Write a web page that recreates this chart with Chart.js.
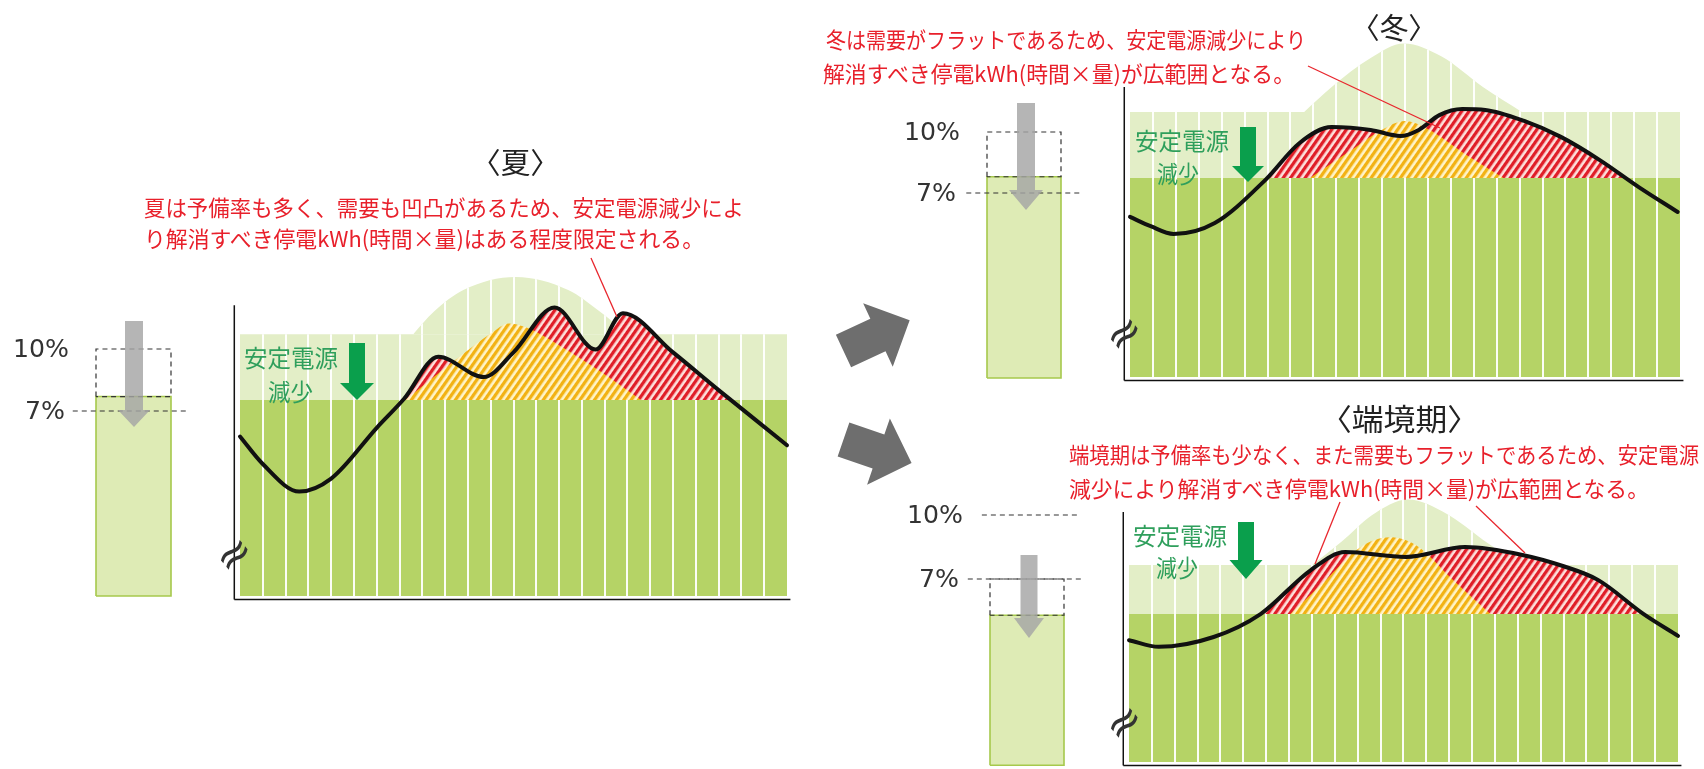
<!DOCTYPE html>
<html lang="ja">
<head>
<meta charset="utf-8">
<title>安定電源減少による停電kWhのイメージ</title>
<script src="https://cdn.jsdelivr.net/npm/chart.js@4.4.1/dist/chart.umd.min.js"></script>
<style>
  html, body { margin: 0; padding: 0; background: #fff; }
  #page { position: relative; width: 1704px; height: 769px; overflow: hidden; background: #fff;
          font-family: "Noto Sans CJK JP", "Noto Sans", sans-serif; }
  #page canvas { position: absolute; display: block; z-index: 1; }
  #deco { position: absolute; left: 0; top: 0; z-index: 2; }
  .t { position: absolute; white-space: nowrap; line-height: 1; transform-origin: 0 50%; z-index: 3; }
</style>
</head>
<body>
<div id="page">
  <svg id="deco" width="1704" height="769" xmlns="http://www.w3.org/2000/svg"></svg>
</div>
<script>
// ---------------------------------------------------------------
// Data: hours of the day (0-24) against load in relative units
// (0 = bottom of the stable-supply block).
// ---------------------------------------------------------------
const seasonTitles = ['〈夏〉', '〈冬〉', '〈端境期〉'];
const seasonNotes = [
  ['夏は予備率も多く、需要も凹凸があるため、安定電源減少によ', 'り解消すべき停電kWh(時間×量)はある程度限定される。'],
  ['冬は需要がフラットであるため、安定電源減少により', '解消すべき停電kWh(時間×量)が広範囲となる。'],
  ['端境期は予備率も少なく、また需要もフラットであるため、安定電源', '減少により解消すべき停電kWh(時間×量)が広範囲となる。']
];
const supplyLabel = ['安定電源', '減少'];

const stableTop  = [67.6, 68.6, 51.0];   // stable supply after the reduction
const reserveTop = [90.3, 91.4, 67.9];   // reserve band that was lost
const axisTop    = [100.3, 100.0, 86.2];

const summerHours  = [0, 1, 2.6, 4, 6, 7.2, 8.7, 10.7, 12, 13.8, 15.6, 16.8, 19, 21, 24];
const summerDemand = [55, 45.5, 36, 40.5, 58, 68, 82.5, 75.5, 84, 99.5, 85, 97.5, 84, 71, 52];
const summerPvHours = [7.6, 8.5, 9.8, 12.1, 14.4, 15.8, 17.0];
const summerPv      = [90.3, 98, 105.5, 110, 105.5, 98, 90.3];
const summerCoverHours = [7.25, 8.5, 9.8, 11, 11.8, 12.6, 14, 15.8, 17.6];
const summerCover      = [67.6, 75.5, 83.5, 90.5, 94, 92.5, 86.5, 77.5, 67.6];

const winterHours  = [0, 0.9, 1.9, 3.7, 5.9, 7.4, 8.8, 10.5, 11.8, 12.6, 13.5, 14.5, 15.5, 17.2, 18.8, 20.5, 22.2, 23.9];
const winterDemand = [55.2, 52, 49.3, 53.1, 67.9, 80.7, 86.2, 85.2, 83.1, 85.2, 90.3, 92.4, 92.1, 88.3, 82.8, 74.8, 65.5, 56.9];
const winterPvHours = [7.6, 8.8, 10.5, 11.95, 13.6, 15.4, 17.1];
const winterPv      = [91.4, 100, 110, 115, 110.5, 100, 91.4];
const winterCoverHours = [7.85, 9.5, 11, 12, 13, 14.6, 16.3];
const winterCover      = [68.6, 77.4, 85.3, 88.3, 85.5, 77, 68.6];

const shoulderHours  = [0, 1.3, 3.7, 5.75, 7.95, 9.45, 12.1, 14.7, 17.2, 19, 20.5, 22.5, 24];
const shoulderDemand = [42, 39.7, 43.1, 51, 66.2, 72.4, 70.7, 74.1, 71.4, 67.5, 62.8, 51, 43.5];
const shoulderPvHours = [8.0, 9.3, 10.6, 12.2, 13.9, 15.5, 17.1];
const shoulderPv      = [67.9, 76, 85, 90.5, 85.5, 76.5, 67.9];
const shoulderCoverHours = [7.05, 8.5, 10.1, 11.4, 12.5, 14.2, 15.8];
const shoulderCover      = [51, 62, 74, 77.5, 75, 62.5, 51];

// Reserve-margin gauges (percent)
const gaugeTicks      = [10, 7];
const gaugeTickLabels = ['10%', '7%'];
const reserveBefore   = [10, 10, 7];
const reserveAfter    = [7.7, 7.8, 5.3];
const gaugeFloor      = [-1.95, -2.1, -1.73];
const gaugeRefLines   = [[7], [7], [10, 7]];

// ---------------------------------------------------------------
// Layout (pixels)
// ---------------------------------------------------------------
const mainBoxes = [
  { left: 225,  top: 245, width: 580, height: 360, x0: 240,  x24: 787,  y0: 596, unit: 2.9 },
  { left: 1110, top: 25,  width: 594, height: 363, x0: 1130, x24: 1680, y0: 377, unit: 2.9 },
  { left: 1110, top: 470, width: 594, height: 299, x0: 1129, x24: 1678, y0: 762, unit: 2.9 }
];
const gaugeBoxes = [
  { left: 60,  top: 330, width: 140, height: 275, xa: 96,  xb: 171,  yHi: 349, yLo: 411 },
  { left: 955, top: 110, width: 140, height: 275, xa: 987, xb: 1061, yHi: 132, yLo: 193 },
  { left: 955, top: 495, width: 140, height: 274, xa: 990, xb: 1064, yHi: 515, yLo: 579 }
];
const gaugeRefSpan = [[[-0.31, 1.25]], [[-0.28, 1.28]], [[-0.11, 1.22], [-0.3, 1.28]]];

const DARK = '#b5d366';
const LIGHT = '#e3eec7';
const RED = '#e8202b';
const GREEN_TEXT = '#2f9f5c';
const GREEN_ARROW = '#0a9f4c';

const page = document.getElementById('page');
const deco = document.getElementById('deco');

const panelSeries = [
  { hours: summerHours, demand: summerDemand, pvHours: summerPvHours, pv: summerPv, coverHours: summerCoverHours, cover: summerCover },
  { hours: winterHours, demand: winterDemand, pvHours: winterPvHours, pv: winterPv, coverHours: winterCoverHours, cover: winterCover },
  { hours: shoulderHours, demand: shoulderDemand, pvHours: shoulderPvHours, pv: shoulderPv, coverHours: shoulderCoverHours, cover: shoulderCover }
];

function pts(xs, ys) { return xs.map((x, k) => ({ x, y: ys[k] })); }
function lerpValue(vA, pA, vB, pB, p) { return vA + (p - pA) * (vB - vA) / (pB - pA); }

function makeCanvas(b) {
  const c = document.createElement('canvas');
  c.width = b.width; c.height = b.height;
  c.style.left = b.left + 'px'; c.style.top = b.top + 'px';
  c.style.width = b.width + 'px'; c.style.height = b.height + 'px';
  page.appendChild(c);
  return c;
}

// diagonal stripe fill for the hatched areas
function hatch(ctx, stripe, gap) {
  const p = 6;
  const tile = document.createElement('canvas');
  tile.width = p; tile.height = p;
  const g = tile.getContext('2d');
  g.fillStyle = gap; g.fillRect(0, 0, p, p);
  g.fillStyle = stripe; g.fillRect(0, 0, 3.3, p);
  const pat = ctx.createPattern(tile, 'repeat');
  pat.setTransform(new DOMMatrix().rotateSelf(35));
  return pat;
}

// white hourly separators over the supply blocks (drawn under the hatching)
const columnLines = {
  id: 'columnLines',
  afterDatasetDraw(chart, args) {
    const ds = chart.data.datasets[args.index];
    if (!ds.columnLines) return;
    const { ctx, chartArea } = chart;
    const xs = chart.scales.x, ys = chart.scales.y;
    const bottom = ys.getPixelForValue(0);
    const band = ys.getPixelForValue(ds.bandLevel);
    const bump = args.meta.dataset;
    const p = bump.points;
    ctx.save();
    ctx.strokeStyle = 'rgba(255,255,255,0.95)';
    ctx.lineWidth = 2;
    ctx.beginPath();
    for (let h = 1; h < 24; h++) {
      const x = Math.round(xs.getPixelForValue(h));
      ctx.moveTo(x, bottom); ctx.lineTo(x, band);
    }
    ctx.stroke();
    bump.updateControlPoints(chartArea, 'x');
    ctx.beginPath();
    bump.path(ctx);
    ctx.lineTo(p[p.length - 1].x, band);
    ctx.lineTo(p[0].x, band);
    ctx.closePath();
    ctx.clip();
    ctx.beginPath();
    for (let h = 1; h < 24; h++) {
      const x = Math.round(xs.getPixelForValue(h));
      ctx.moveTo(x, band + 0.5); ctx.lineTo(x, chartArea.top);
    }
    ctx.stroke();
    ctx.restore();
  }
};

function baseOptions(xMin, xMax, yMin, yMax) {
  return {
    responsive: false, animation: false, events: [],
    layout: { padding: 0 },
    plugins: { legend: { display: false }, tooltip: { enabled: false }, title: { display: false } },
    scales: {
      x: { type: 'linear', min: xMin, max: xMax, display: false },
      y: { type: 'linear', min: yMin, max: yMax, display: false }
    }
  };
}

function drawMain(i) {
  const b = mainBoxes[i], s = panelSeries[i];
  const cv = makeCanvas(b);
  const ctx = cv.getContext('2d');
  const xMin = lerpValue(0, b.x0, 24, b.x24, b.left);
  const xMax = lerpValue(0, b.x0, 24, b.x24, b.left + b.width);
  const yMax = (b.y0 - b.top) / b.unit;
  const yMin = (b.y0 - b.top - b.height) / b.unit;
  const flat = v => [{ x: 0, y: v }, { x: 24, y: v }];
  const smooth = { pointRadius: 0, borderWidth: 0, cubicInterpolationMode: 'monotone' };
  new Chart(ctx, {
    type: 'line',
    data: {
      datasets: [
        { ...smooth, label: '需要', data: pts(s.hours, s.demand), borderColor: '#111', borderWidth: 4,
          borderCapStyle: 'round', borderJoinStyle: 'round', fill: false, order: 1 },
        { ...smooth, label: '太陽光', data: pts(s.coverHours, s.cover),
          fill: { target: { value: stableTop[i] } }, backgroundColor: hatch(ctx, '#f2b214', '#fff4c8'), order: 3 },
        { ...smooth, label: '停電kWh', data: pts(s.hours, s.demand),
          fill: { target: { value: stableTop[i] }, above: hatch(ctx, '#e01e28', '#fde0dc'), below: 'rgba(0,0,0,0)' }, order: 4 },
        { ...smooth, label: '太陽光出力', data: pts(s.pvHours, s.pv),
          fill: { target: { value: reserveTop[i] } }, backgroundColor: LIGHT, order: 6,
          columnLines: true, bandLevel: reserveTop[i] },
        { ...smooth, label: '安定電源', data: flat(stableTop[i]), fill: 'origin', backgroundColor: DARK, order: 7 },
        { ...smooth, label: '予備力', data: flat(reserveTop[i]), fill: 'origin', backgroundColor: LIGHT, order: 8 },
        { label: '横軸', data: [{ x: -0.25, y: -1.2 }, { x: 24.15, y: -1.2 }], borderColor: '#111',
          borderWidth: 1.5, pointRadius: 0, fill: false, order: 0 },
        { label: '縦軸', data: [{ x: -0.25, y: -1.2 }, { x: -0.25, y: axisTop[i] }], borderColor: '#111',
          borderWidth: 1.5, pointRadius: 0, fill: false, order: 0 }
      ]
    },
    options: baseOptions(xMin, xMax, yMin, yMax),
    plugins: [columnLines]
  });
}

function drawGauge(i) {
  const b = gaugeBoxes[i];
  const cv = makeCanvas(b);
  const ctx = cv.getContext('2d');
  const xMin = lerpValue(0, b.xa, 1, b.xb, b.left);
  const xMax = lerpValue(0, b.xa, 1, b.xb, b.left + b.width);
  const yMax = lerpValue(gaugeTicks[0], b.yHi, gaugeTicks[1], b.yLo, b.top);
  const yMin = lerpValue(gaugeTicks[0], b.yHi, gaugeTicks[1], b.yLo, b.top + b.height);
  const lo = gaugeFloor[i], now = reserveAfter[i], before = reserveBefore[i];
  const rect = (a, c) => [{ x: 0, y: a }, { x: 0, y: c }, { x: 1, y: c }, { x: 1, y: a }, { x: 0, y: a }];
  const refs = gaugeRefLines[i].map((lvl, k) => ({
    label: lvl + '%', data: [{ x: gaugeRefSpan[i][k][0], y: lvl }, { x: gaugeRefSpan[i][k][1], y: lvl }],
    borderColor: '#333', borderWidth: 1.2, borderDash: [5, 4], pointRadius: 0, fill: false, order: 1
  }));
  const chart = new Chart(ctx, {
    type: 'line',
    data: {
      datasets: [
        ...refs,
        { label: '減少前', data: rect(now, before), borderColor: '#333', borderWidth: 1.2, borderDash: [5, 4],
          pointRadius: 0, fill: false, order: 2 },
        { label: '予備率枠', data: rect(lo, now), borderColor: '#a6c94c', borderWidth: 1.6, pointRadius: 0,
          fill: false, order: 4 },
        { label: '予備率', data: [{ x: 0, y: now }, { x: 1, y: now }], borderWidth: 0, pointRadius: 0,
          fill: { target: { value: lo } }, backgroundColor: '#deebb5', order: 5 }
      ]
    },
    options: baseOptions(xMin, xMax, yMin, yMax)
  });
  // tick labels placed from the gauge's own y scale
  const ys = chart.scales.y;
  gaugeTicks.forEach((v, k) => {
    const cy = b.top + ys.getPixelForValue(v);
    const w = k === 0 ? 56 : 40;
    const right = b.xa - (k === 0 ? 27 : 31);
    addText(gaugeTickLabels[k], right - w, cy, w, 24, '#333', '"DejaVu Sans", sans-serif');
  });
}

const fitters = [];
function addText(t, left, cy, w, size, color, family, rotate) {
  const d = document.createElement('div');
  d.className = 't';
  d.textContent = t;
  d.style.left = left + 'px';
  d.style.top = (cy - size / 2) + 'px';
  d.style.fontSize = size + 'px';
  d.style.color = color;
  if (family) d.style.fontFamily = family;
  if (rotate) d.style.transformOrigin = '50% 50%';
  page.appendChild(d);
  const fit = () => {
    d.style.transform = '';
    const nat = d.getBoundingClientRect().width;
    let tr = '';
    if (w && nat > 0) tr += `scaleX(${(w / nat).toFixed(4)})`;
    if (rotate) tr = `rotate(${rotate}deg)`;
    d.style.transform = tr;
  };
  fit(); fitters.push(fit);
  return d;
}

function svgEl(tag, attrs) {
  const e = document.createElementNS('http://www.w3.org/2000/svg', tag);
  for (const k in attrs) e.setAttribute(k, attrs[k]);
  deco.appendChild(e);
  return e;
}
function downArrow(cx, top, headTop, tip, sw, hw, fill) {
  const p = [[cx - sw / 2, top], [cx + sw / 2, top], [cx + sw / 2, headTop], [cx + hw / 2, headTop],
             [cx, tip], [cx - hw / 2, headTop], [cx - sw / 2, headTop]];
  svgEl('polygon', { points: p.map(q => q.join(',')).join(' '), fill });
}
function blockArrow(tx, ty, angle, len, sw, hw, hl, fill) {
  const p = [[0, -sw / 2], [len - hl, -sw / 2], [len - hl, -hw / 2], [len, 0], [len - hl, hw / 2], [len - hl, sw / 2], [0, sw / 2]];
  svgEl('polygon', { points: p.map(q => q.join(',')).join(' '), fill,
                     transform: `translate(${tx},${ty}) rotate(${angle})` });
}

// ---------------------------------------------------------------
// Build the three panels
// ---------------------------------------------------------------
for (let i = 0; i < 3; i++) { drawMain(i); drawGauge(i); }

// transition arrows between the panels
blockArrow(843.5, 351, -25, 73, 36, 70, 35, '#6e6e6e');
blockArrow(843.5, 439.5, 19, 72, 36, 70, 35, '#6e6e6e');

// reserve reduction arrows on the gauges
downArrow(134, 321, 410, 427, 18, 32, 'rgba(165,165,165,0.82)');
downArrow(1026, 103, 190, 210, 18, 34, 'rgba(165,165,165,0.82)');
downArrow(1029, 555, 618, 638, 17, 30, 'rgba(165,165,165,0.82)');

// "stable supply reduction" arrows
downArrow(357, 343, 383, 400, 16, 34, GREEN_ARROW);
downArrow(1248, 127, 166, 182, 16, 32, GREEN_ARROW);
downArrow(1246, 522, 560, 579, 16, 33, GREEN_ARROW);

// leader lines from the notes to the hatched areas
const leaders = [[591, 258, 617, 317], [1308, 66, 1440, 128], [1340, 502, 1315, 564], [1476, 506, 1525, 553]];
leaders.forEach(l => svgEl('line', { x1: l[0], y1: l[1], x2: l[2], y2: l[3], stroke: '#e8262d', 'stroke-width': 1.3 }));

// titles, notes and labels
addText(seasonTitles[0], 471, 161, 89, 29, '#222');
addText(seasonTitles[1], 1351, 26, 86, 29, '#222');
addText(seasonTitles[2], 1320, 417, 159, 30, '#222');

addText(seasonNotes[0][0], 144, 206, 600, 22, RED);
addText(seasonNotes[0][1], 144, 237, 560, 22, RED);
addText(seasonNotes[1][0], 826, 38, 480, 22, RED);
addText(seasonNotes[1][1], 823, 72, 472, 22, RED);
addText(seasonNotes[2][0], 1069, 453, 630, 22, RED);
addText(seasonNotes[2][1], 1069, 487, 580, 22, RED);

addText(supplyLabel[0], 244, 357, 94, 24, GREEN_TEXT);
addText(supplyLabel[1], 268, 391, 45, 24, GREEN_TEXT);
addText(supplyLabel[0], 1135, 140, 94, 24, GREEN_TEXT);
addText(supplyLabel[1], 1157, 173, 42, 24, GREEN_TEXT);
addText(supplyLabel[0], 1133, 535, 94, 24, GREEN_TEXT);
addText(supplyLabel[1], 1156, 567, 42, 24, GREEN_TEXT);

// axis break marks
addText('≈', 215, 554, 0, 44, '#333', '"DejaVu Sans", sans-serif', -40);
addText('≈', 1105, 333, 0, 44, '#333', '"DejaVu Sans", sans-serif', -40);
addText('≈', 1105, 722, 0, 44, '#333', '"DejaVu Sans", sans-serif', -40);

if (document.fonts && document.fonts.ready) document.fonts.ready.then(() => fitters.forEach(f => f()));
</script>
</body>
</html>
